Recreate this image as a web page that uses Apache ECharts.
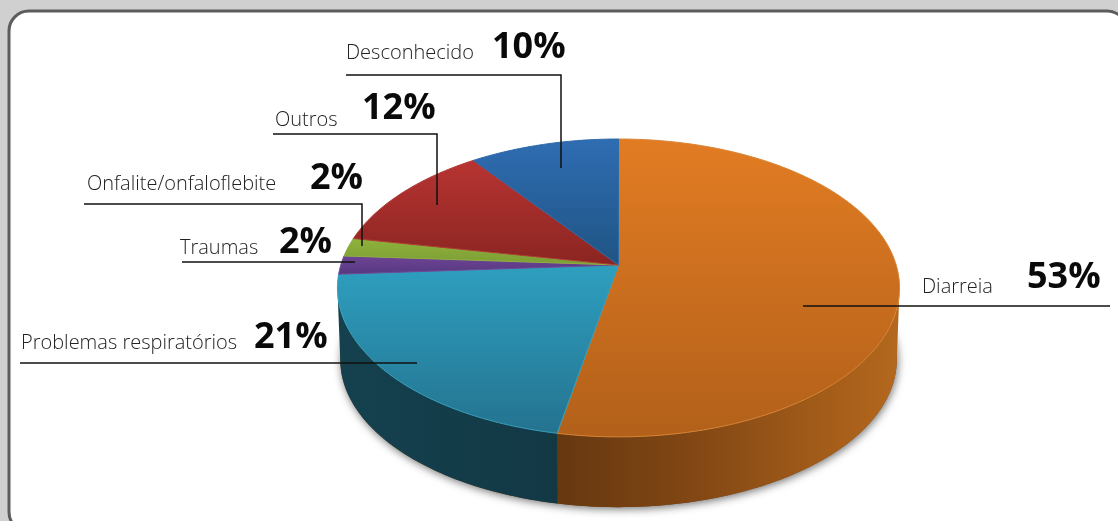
<!DOCTYPE html>
<html><head><meta charset="utf-8">
<style>html,body{margin:0;padding:0;background:#d0d0d0}#c{width:1118px;height:521px}</style>
<script src="https://cdn.jsdelivr.net/npm/echarts@6/dist/echarts.min.js"></script>
</head><body><div id="c"></div>
<script>
const categories = ['Diarreia','Problemas respiratórios','Traumas','Onfalite/onfaloflebite','Outros','Desconhecido'];
const shares = [53,21,2,2,12,10];

// styling and layout, kept apart from the data
const topColors = [['#e27c23','#b2601a'],['#2e9fc0','#24738f'],['#6f4396','#55397f'],['#8fb33c','#7c9c34'],['#b83432','#8a2521'],['#2f6db3','#1f5483']];
const rimColors = ['#d98636','#349fbe','#6f4a96','#8fb040','#b03a36','#2f6aa8'];
const wallColors = [[{offset:0,color:'#663810'},{offset:0.4,color:'#824714'},{offset:0.85,color:'#a9601a'},{offset:1,color:'#b4681f'}],[{offset:0,color:'#15414f'},{offset:1,color:'#123844'}],null,null,null,null];
const labelX = [922,21,180,87,275,346], labelBase = [292,348,253,189,125,58];
const pctX = [1027,254,279,310,362,492], pctBase = [288,348,253,189,119,58];
const LABEL_RISE = 15, PCT_RISE = 28;
const leaders = [
  [[803,306],[1110,306]],
  [[20,363],[417,363]],
  [[182,262],[355,262]],
  [[84,204],[362,204],[362,246]],
  [[273,134],[437,134],[437,205]],
  [[346,75],[561,75],[561,168]]
];
const CX=618.5, CY=265, RX=277.7, RY=145.4, K=0.154, DEPTH=72, RB=0.99;
function proj(deg, scale, dy){
  const t=deg*Math.PI/180, u=Math.sin(t), v=-Math.cos(t), d=1-K*v;
  return [CX+RX*scale*u/d, CY+dy+RY*scale*v/d];
}
function arc(a,b,scale,dy){
  const n=Math.max(2,Math.ceil(Math.abs(b-a))), p=[];
  for(let i=0;i<=n;i++) p.push(proj(a+(b-a)*i/n,scale,dy));
  return p;
}
const total = shares.reduce((s,v)=>s+v,0);
function bounds(i){
  let s=0; for(let j=0;j<i;j++) s+=shares[j];
  return [s/total*360,(s+shares[i])/total*360];
}
function renderSlice(params, api){
  const i=params.dataIndex, [a,b]=bounds(i), ch=[];
  if(i===0){
    ch.push({type:'polygon',z2:0,shape:{points:arc(0,360,RB,DEPTH)},
      style:{fill:'#7a4a20',shadowBlur:9,shadowColor:'rgba(0,0,0,0.55)',shadowOffsetY:2,shadowOffsetX:1}});
  }
  const wa=Math.max(a,99), wb=Math.min(b,261);
  if(wb>wa && wallColors[i]){
    const pts=arc(wa,wb,1,0).concat(arc(wb,wa,RB,DEPTH));
    ch.push({type:'polygon',z2:1,shape:{points:pts},
      style:{fill:new echarts.graphic.LinearGradient(0,0,1,0,wallColors[i]),stroke:null}});
  }
  const pts=[[CX,CY]].concat(arc(a,b,1,0));
  ch.push({type:'polygon',z2:5,shape:{points:pts},
    style:{fill:new echarts.graphic.LinearGradient(0,0,0,1,[{offset:0,color:topColors[i][0]},{offset:1,color:topColors[i][1]}]),
      stroke:rimColors[i],lineWidth:1,lineJoin:'round'}});
  return {type:'group',children:ch};
}
function renderLabel(params, api){
  const i=params.dataIndex;
  return {type:'group',children:[
    {type:'polyline',z2:10,shape:{points:leaders[i]},style:{stroke:'#111',lineWidth:1.5,fill:null}},
    {type:'text',z2:11,style:{x:labelX[i],y:labelBase[i]-LABEL_RISE,text:categories[i],textAlign:'left',verticalAlign:'top',
      font:'300 20px "Open Sans"',fill:'#222'}},
    {type:'text',z2:11,style:{x:pctX[i],y:pctBase[i]-PCT_RISE,text:shares[i]+'%',textAlign:'left',verticalAlign:'top',
      font:'700 36px "Open Sans"',fill:'#0a0a0a'}}
  ]};
}
const rows = categories.map((c,i)=>({name:c,value:shares[i]}));
const chart = echarts.init(document.getElementById('c'),null,{renderer:'canvas'});
chart.setOption({
  animation:false,
  backgroundColor:'#d0d0d0',
  tooltip:{show:false},
  graphic:[{type:'rect',z:-1,shape:{x:9,y:11,width:1118,height:521,r:20},style:{fill:'#fff',stroke:'#5c5c5c',lineWidth:3}}],
  series:[
    {type:'custom',coordinateSystem:'none',data:rows,renderItem:renderSlice,z:2,silent:true},
    {type:'custom',coordinateSystem:'none',data:rows,renderItem:renderLabel,z:3,silent:true}
  ]
});
</script></body></html>
